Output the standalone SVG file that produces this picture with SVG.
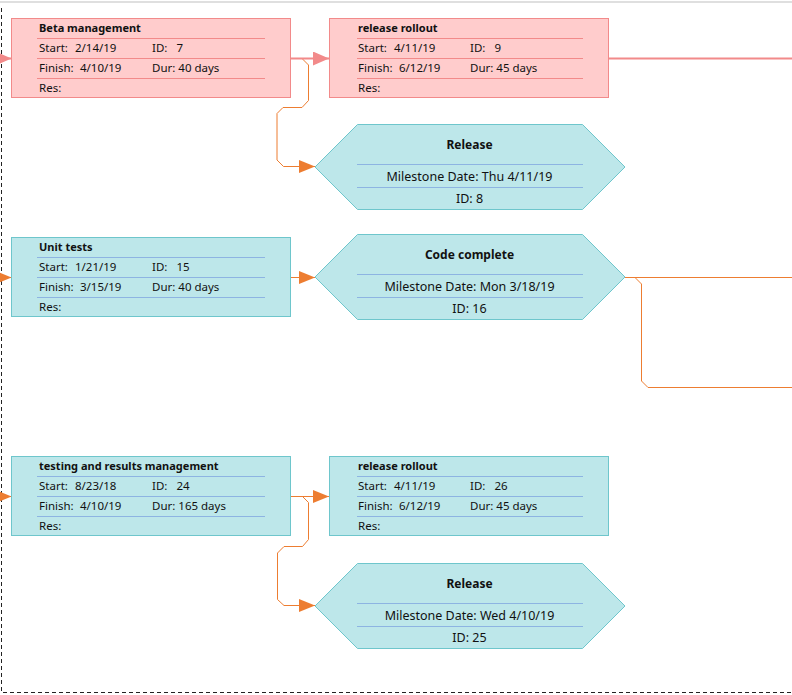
<svg xmlns="http://www.w3.org/2000/svg" width="792" height="695" viewBox="0 0 792 695">
<defs>
<style>
.t{font-family:"Noto Sans","Open Sans","DejaVu Sans",sans-serif;fill:#111}
.bt{font-size:11px;font-weight:bold}
.br{font-size:11.5px}
.ht{font-size:12px;font-weight:bold;text-anchor:middle}
.hr{font-size:12.5px;text-anchor:middle}
.pk{fill:#FFCCCC;stroke:#F28A8A;stroke-width:1}
.pl{stroke:#F28A8A;stroke-width:1}
.tl{fill:#BDE7EA;stroke:#6EC6CC;stroke-width:1}
.bl{stroke:#8DB4E2;stroke-width:1}
.oc{fill:none;stroke:#ED7D31;stroke-width:1}
.pc{fill:none;stroke:#F28A8A;stroke-width:2}
</style>
<marker id="ao" markerUnits="userSpaceOnUse" markerWidth="16" markerHeight="13" refX="16" refY="6.5" orient="auto"><path d="M0,0 L16,6.5 L0,13 z" fill="#ED7D31"/></marker>
<marker id="ap" markerUnits="userSpaceOnUse" markerWidth="16" markerHeight="14" refX="16" refY="7" orient="auto"><path d="M0,0 L16,7 L0,14 z" fill="#F28A8A"/></marker>
</defs>
<rect width="792" height="695" fill="#fff"/>
<line x1="0" y1="2" x2="792" y2="2" stroke="#D4D4D4" stroke-width="1.5"/>
<path d="M1.5,8 V692.5 H792" fill="none" stroke="#222" stroke-width="1" stroke-dasharray="4,3"/>

<g id="connectors">
<path class="oc" d="M290.5,58.5 H302 L308.5,65 V100.5 L302,107.5 H283 L277,113.5 V160 L283.5,166.5 H315" marker-end="url(#ao)"/>
<path class="pc" d="M-20,58.5 H11.5" marker-end="url(#ap)"/>
<path class="pc" d="M290.5,58.5 H329" marker-end="url(#ap)"/>
<path class="pc" d="M608.5,58.5 H792"/>
<path class="oc" d="M-20,277.5 H11.5" marker-end="url(#ao)"/>
<path class="oc" d="M290.5,277.5 H315" marker-end="url(#ao)"/>
<path class="oc" d="M624,277.5 H792"/>
<path class="oc" d="M635,277.5 L641.5,284 V381 L648,387.5 H792"/>
<path class="oc" d="M-20,496.5 H11.5" marker-end="url(#ao)"/>
<path class="oc" d="M290.5,496.5 H329" marker-end="url(#ao)"/>
<path class="oc" d="M290.5,496.5 H302.5 L308.5,502.5 V539.5 L302.5,546.5 H284 L277.5,553 V599.5 L284,605.5 H315" marker-end="url(#ao)"/>
</g>

<g id="task7">
<rect class="pk" x="11.5" y="18.5" width="279" height="79"/>
<path class="pl" d="M37,38.5 H265 M37,58.5 H265 M37,78.5 H265"/>
<text class="t bt" x="39" y="31.5">Beta management</text>
<text class="t br" x="39" y="52">Start:</text><text class="t br" x="75" y="52">2/14/19</text>
<text class="t br" x="152" y="52">ID:</text><text class="t br" x="176.5" y="52">7</text>
<text class="t br" x="39" y="72">Finish:</text><text class="t br" x="80" y="72">4/10/19</text>
<text class="t br" x="152" y="72">Dur: 40 days</text>
<text class="t br" x="39" y="92">Res:</text>
</g>

<g id="task9">
<rect class="pk" x="329.5" y="18.5" width="279" height="79"/>
<path class="pl" d="M357,38.5 H583 M357,58.5 H583 M357,78.5 H583"/>
<text class="t bt" x="358" y="31.5">release rollout</text>
<text class="t br" x="358" y="52">Start:</text><text class="t br" x="394" y="52">4/11/19</text>
<text class="t br" x="470" y="52">ID:</text><text class="t br" x="494.5" y="52">9</text>
<text class="t br" x="358" y="72">Finish:</text><text class="t br" x="399" y="72">6/12/19</text>
<text class="t br" x="470" y="72">Dur: 45 days</text>
<text class="t br" x="358" y="92">Res:</text>
</g>

<g id="ms8">
<polygon class="tl" points="315,167 357.5,124.5 582.5,124.5 625,167 582.5,209.5 357.5,209.5"/>
<path class="bl" d="M357,164.5 H583 M357,187.5 H583"/>
<text class="t ht" x="469.5" y="149">Release</text>
<text class="t hr" x="469.5" y="181">Milestone Date: Thu 4/11/19</text>
<text class="t hr" x="469.5" y="203">ID: 8</text>
</g>

<g id="task15">
<rect class="tl" x="11.5" y="237.5" width="279" height="79"/>
<path class="bl" d="M37,257.5 H265 M37,277.5 H265 M37,297.5 H265"/>
<text class="t bt" x="39" y="250.5">Unit tests</text>
<text class="t br" x="39" y="271">Start:</text><text class="t br" x="75" y="271">1/21/19</text>
<text class="t br" x="152" y="271">ID:</text><text class="t br" x="176.5" y="271">15</text>
<text class="t br" x="39" y="291">Finish:</text><text class="t br" x="80" y="291">3/15/19</text>
<text class="t br" x="152" y="291">Dur: 40 days</text>
<text class="t br" x="39" y="311">Res:</text>
</g>

<g id="ms16">
<polygon class="tl" points="315,277 357.5,234.5 582.5,234.5 625,277 582.5,319.5 357.5,319.5"/>
<path class="bl" d="M357,274.5 H583 M357,297.5 H583"/>
<text class="t ht" x="469.5" y="259">Code complete</text>
<text class="t hr" x="469.5" y="291">Milestone Date: Mon 3/18/19</text>
<text class="t hr" x="469.5" y="313">ID: 16</text>
</g>

<g id="task24">
<rect class="tl" x="11.5" y="456.5" width="279" height="79"/>
<path class="bl" d="M37,476.5 H265 M37,496.5 H265 M37,516.5 H265"/>
<text class="t bt" x="39" y="469.5">testing and results management</text>
<text class="t br" x="39" y="490">Start:</text><text class="t br" x="75" y="490">8/23/18</text>
<text class="t br" x="152" y="490">ID:</text><text class="t br" x="176.5" y="490">24</text>
<text class="t br" x="39" y="510">Finish:</text><text class="t br" x="80" y="510">4/10/19</text>
<text class="t br" x="152" y="510">Dur: 165 days</text>
<text class="t br" x="39" y="530">Res:</text>
</g>

<g id="task26">
<rect class="tl" x="329.5" y="456.5" width="279" height="79"/>
<path class="bl" d="M357,476.5 H583 M357,496.5 H583 M357,516.5 H583"/>
<text class="t bt" x="358" y="469.5">release rollout</text>
<text class="t br" x="358" y="490">Start:</text><text class="t br" x="394" y="490">4/11/19</text>
<text class="t br" x="470" y="490">ID:</text><text class="t br" x="494.5" y="490">26</text>
<text class="t br" x="358" y="510">Finish:</text><text class="t br" x="399" y="510">6/12/19</text>
<text class="t br" x="470" y="510">Dur: 45 days</text>
<text class="t br" x="358" y="530">Res:</text>
</g>

<g id="ms25">
<polygon class="tl" points="315,606 357.5,563.5 582.5,563.5 625,606 582.5,648.5 357.5,648.5"/>
<path class="bl" d="M357,603.5 H583 M357,626.5 H583"/>
<text class="t ht" x="469.5" y="588">Release</text>
<text class="t hr" x="469.5" y="620">Milestone Date: Wed 4/10/19</text>
<text class="t hr" x="469.5" y="642">ID: 25</text>
</g>
</svg>
